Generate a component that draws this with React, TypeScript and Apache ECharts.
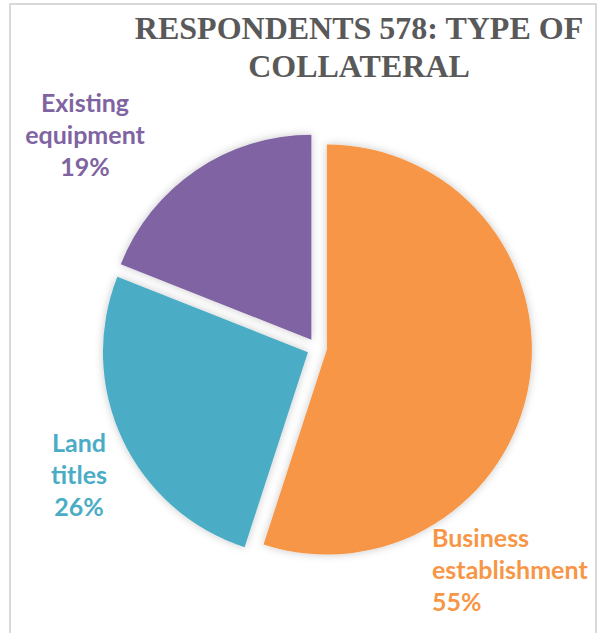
import React, { useEffect, useRef } from "react";
import * as echarts from "echarts";

const categories = ["Business establishment", "Land titles", "Existing equipment"];
const shares = [55, 26, 19];
const sliceColors = ["#F79646", "#4BACC6", "#8064A2"];
const titleLines = ["RESPONDENTS 578: TYPE OF", "COLLATERAL"];

// label anchor positions (x, y, align) — layout only
const labelAnchors: [number, number, string][] = [
  [432, 569, "left"],
  [79, 474, "center"],
  [85, 134, "center"],
];

export default function App() {
  const ref = useRef<HTMLDivElement>(null);
  useEffect(() => {
    if (!ref.current) return;
    const chart = echarts.init(ref.current, undefined, { renderer: "svg" });
    const total = shares.reduce((a, b) => a + b, 0);
    const labelTexts = categories.map(
      (name, i) =>
        name.replace(" ", "\n") + "\n" + Math.round((shares[i] / total) * 100) + "%"
    );
    const option: any = {
      animation: false,
      backgroundColor: "#ffffff",
      graphic: [
        {
          type: "rect",
          shape: { x: 10, y: 4, width: 586, height: 700 },
          style: { fill: "none", stroke: "#d9d9d9", lineWidth: 2 },
          silent: true,
        },
        {
          type: "text",
          x: 359,
          y: 9,
          style: {
            text: titleLines.join("\n"),
            textAlign: "center",
            textVerticalAlign: "top",
            fontFamily: "'Liberation Serif', 'Times New Roman', serif",
            fontWeight: "bold",
            fontSize: 32,
            lineHeight: 38,
            fill: "#595959",
          },
        },
        ...labelTexts.map((t, i) => ({
          type: "text",
          x: labelAnchors[i][0],
          y: labelAnchors[i][1],
          style: {
            text: t,
            textAlign: labelAnchors[i][2],
            textVerticalAlign: "middle",
            fontFamily: "Lato, 'Open Sans', sans-serif",
            fontWeight: "bold",
            fontSize: 25,
            lineHeight: 32,
            fill: sliceColors[i],
          },
        })),
      ],
      series: [
        {
          type: "pie",
          center: [317, 348],
          radius: 205,
          startAngle: 90,
          clockwise: true,
          selectedMode: "multiple",
          selectedOffset: 10,
          avoidLabelOverlap: false,
          emphasis: { disabled: true },
          select: { itemStyle: { borderWidth: 0 } },
          itemStyle: {
            borderWidth: 0,
            shadowBlur: 8,
            shadowColor: "rgba(0,0,0,0.22)",
          },
          labelLine: { show: false },
          label: { show: false },
          data: categories.map((name, i) => ({
            name,
            value: shares[i],
            selected: true,
            itemStyle: { color: sliceColors[i] },
          })),
        },
      ],
    };
    chart.setOption(option);
    return () => chart.dispose();
  }, []);
  return (
    <div
      ref={ref}
      style={{ position: "fixed", left: 0, top: 0, width: 597, height: 633 }}
    />
  );
}
